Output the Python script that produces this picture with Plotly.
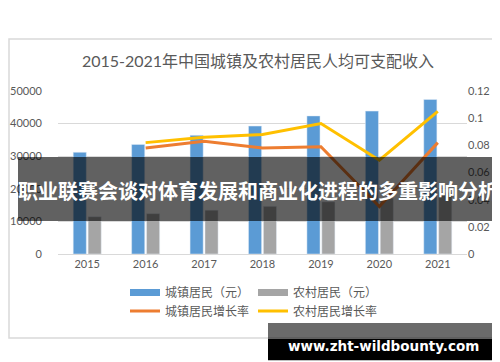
import plotly.graph_objects as go

# ---- data ----
years = ["2015", "2016", "2017", "2018", "2019", "2020", "2021"]
urban_income = [31195, 33616, 36396, 39251, 42359, 43834, 47412]
rural_income = [11422, 12363, 13432, 14617, 16021, 17131, 18931]
growth_years = ["2016", "2017", "2018", "2019", "2020", "2021"]
urban_growth = [0.078, 0.083, 0.078, 0.079, 0.035, 0.082]
rural_growth = [0.082, 0.086, 0.088, 0.096, 0.069, 0.105]
left_ticks = [0, 10000, 20000, 30000, 40000, 50000]
left_tick_text = ["0", "10000", "20000", "30000", "40000", "50000"]
right_ticks = [0, 0.02, 0.04, 0.06, 0.08, 0.1, 0.12]
right_tick_text = ["0", "0.02", "0.04", "0.06", "0.08", "0.1", "0.12"]

title_text = "2015-2021年中国城镇及农村居民人均可支配收入"
banner_text = "职业联赛会谈对体育发展和商业化进程的多重影响分析"
site_text = "www.zht-wildbounty.com"

W, H = 500, 362
L, R, T, B = 50, 41, 83, 116
PW, PH = W - L - R, H - T - B

def px(x):
    return (x - L) / PW

def py(y):
    return 1 - (y - T) / PH

FONT = "Lato, 'Noto Sans CJK SC', sans-serif"
CJK = "'Noto Sans CJK SC', sans-serif"
GRAY = "#595959"
BLUE = "#5B9BD5"
LGRAY = "#A5A5A5"
ORANGE = "#ED7D31"
YELLOW = "#FFC000"

fig = go.Figure()
fig.add_trace(go.Bar(x=years, y=urban_income, name="城镇居民（元）", marker_color=BLUE,
                     showlegend=False))
fig.add_trace(go.Bar(x=years, y=rural_income, name="农村居民（元）", marker_color=LGRAY,
                     showlegend=False))
fig.add_trace(go.Scatter(x=growth_years, y=urban_growth, name="城镇居民增长率", mode="lines",
                         line=dict(color=ORANGE, width=3), yaxis="y2", legend="legend2"))
fig.add_trace(go.Scatter(x=growth_years, y=rural_growth, name="农村居民增长率", mode="lines",
                         line=dict(color=YELLOW, width=3), yaxis="y2", legend="legend2"))
# legend entries for bars (wide swatches)
fig.add_trace(go.Scatter(x=[None], y=[None], name="城镇居民（元）", mode="lines",
                         line=dict(color=BLUE, width=7), legend="legend"))
fig.add_trace(go.Scatter(x=[None], y=[None], name="农村居民（元）", mode="lines",
                         line=dict(color=LGRAY, width=7), legend="legend"))

legend_common = dict(orientation="h", xanchor="left", yanchor="middle",
                     font=dict(family=CJK, size=12, color=GRAY),
                     bgcolor="rgba(0,0,0,0)", entrywidth=83, entrywidthmode="pixels",
                     itemwidth=30)

fig.update_layout(
    width=W, height=H,
    margin=dict(l=L, r=R, t=T, b=B, autoexpand=False),
    paper_bgcolor="white", plot_bgcolor="white",
    barmode="group", bargap=0.49, bargroupgap=0.12,
    font=dict(family=FONT, size=11, color=GRAY),
    title=dict(text=title_text, x=0.5, xanchor="center", xref="container",
               y=1 - 53 / H, yanchor="middle", yref="container",
               font=dict(family=FONT, size=16, color=GRAY)),
    xaxis=dict(type="category", showgrid=False, showline=True, linecolor="#D9D9D9",
               linewidth=1, ticks="", tickfont=dict(size=11, color=GRAY),
               ticklabelstandoff=0),
    yaxis=dict(range=[0, 50000], tickvals=left_ticks, ticktext=left_tick_text,
               showgrid=True, gridcolor="#D9D9D9",
               gridwidth=1, zeroline=False, showline=False, ticks="",
               tickfont=dict(size=11, color=GRAY), ticklabelstandoff=15),
    yaxis2=dict(range=[0, 0.12], tickvals=right_ticks, ticktext=right_tick_text,
                overlaying="y", side="right", showgrid=False, zeroline=False,
                showline=False, ticks="", tickfont=dict(size=11, color=GRAY),
                ticklabelstandoff=0),
    legend=dict(x=px(117), y=py(284.5), **legend_common),
    legend2=dict(x=px(117), y=py(303), **legend_common),
    showlegend=True,
)

shapes = [
    # chart frame
    dict(type="rect", xref="paper", yref="paper", x0=px(1), x1=px(498.5), y0=py(31), y1=py(330),
         line=dict(color="#D9D9D9", width=1.5), fillcolor="rgba(0,0,0,0)", layer="below"),
    # banner across middle
    dict(type="rect", xref="paper", yref="paper", x0=px(10), x1=px(490.5), y0=py(149), y1=py(213),
         line=dict(width=0), fillcolor="rgba(0,0,0,0.62)", layer="above"),
    # bottom watermark
    dict(type="rect", xref="paper", yref="paper", x0=px(260), x1=px(490.5), y0=py(315), y1=py(330.7),
         line=dict(width=0), fillcolor="rgba(0,0,0,0.58)", layer="above"),
    dict(type="rect", xref="paper", yref="paper", x0=px(260), x1=px(490.5), y0=py(330.7), y1=py(352.3),
         line=dict(width=0), fillcolor="black", layer="above"),
]
fig.update_layout(shapes=shapes)

fig.add_annotation(text=banner_text, xref="paper", yref="paper", x=px(250), y=py(182),
                   xanchor="center", yanchor="middle", showarrow=False,
                   font=dict(family=CJK, size=20, color="white", weight="bold"))
fig.add_annotation(text=site_text, xref="paper", yref="paper", x=px(375), y=py(337.5),
                   xanchor="center", yanchor="middle", showarrow=False,
                   font=dict(family="'DejaVu Sans', sans-serif", size=13.5, color="white",
                             weight="bold"))

fig.write_html("out.html")
